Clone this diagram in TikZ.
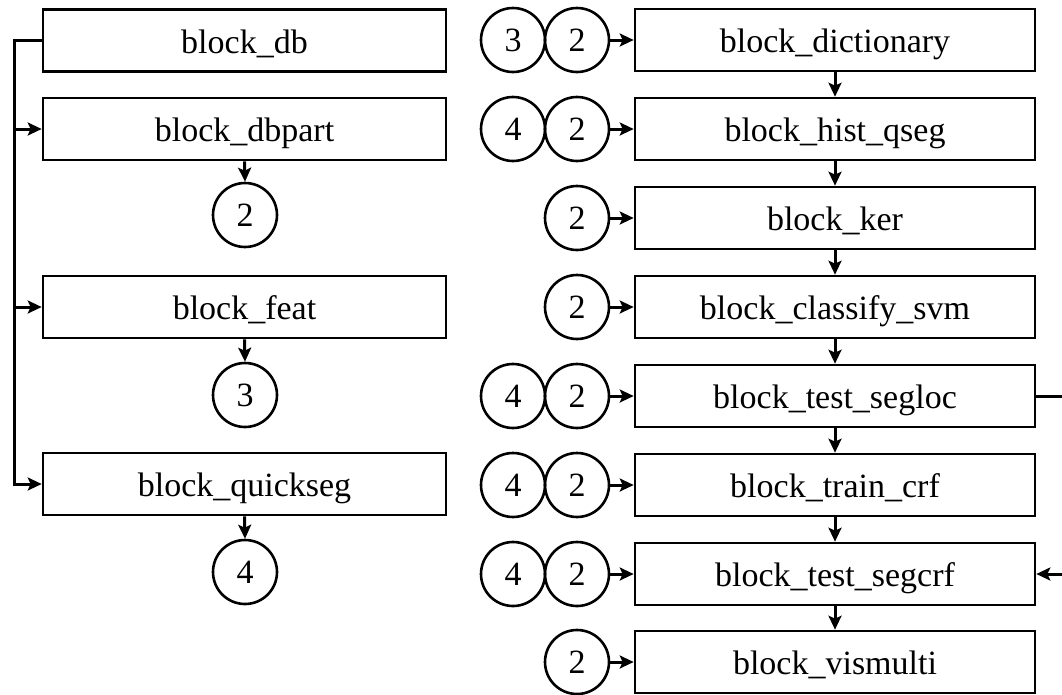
\documentclass[tikz,border=0pt]{standalone}
\usepackage{fontspec}
\setmainfont{Liberation Serif}
\usetikzlibrary{arrows.meta}
\begin{document}
\begin{tikzpicture}[x=1pt,y=-1pt,
  txt/.style={font=\fontsize{34}{38}\selectfont,text height=30pt,text depth=5pt},
  lbox/.style={draw,line width=2.6pt,rectangle,minimum width=403pt,minimum height=62pt,inner sep=0pt,txt},
  rbox/.style={draw,line width=2.6pt,rectangle,minimum width=400pt,minimum height=62pt,inner sep=0pt,txt},
  circ/.style={draw,line width=2.6pt,circle,minimum size=64pt,inner sep=0pt,font=\fontsize{34}{38}\selectfont},
  conn/.style={line width=3pt},
  arr/.style={line width=3pt,-{Stealth[length=14pt,width=13pt,inset=3pt]}}]
\useasboundingbox (0,0) rectangle (1062,694);
% left column
\node[lbox] (db) at (244.5,40.5) {block\_db};
\node[lbox] (dbpart) at (244.5,129) {block\_dbpart};
\node[circ] (l2) at (245,215) {2};
\node[lbox] (feat) at (244.5,307) {block\_feat};
\node[circ] (l3) at (245,395) {3};
\node[lbox] (qs) at (244.5,484) {block\_quickseg};
\node[circ] (l4) at (245,572) {4};
\coordinate (ltop) at (14,40.5);
\coordinate (lb1) at (14,129);
\coordinate (lb2) at (14,307);
\draw[conn] (db.west) -- (ltop) -- (lb1);
\draw[arr] (ltop) |- (qs.west);
\draw[arr] (lb1) -- (dbpart.west);
\draw[arr] (lb2) -- (feat.west);
\draw[arr] (dbpart.south) -- (l2.north);
\draw[arr] (feat.south) -- (l3.north);
\draw[arr] (qs.south) -- (l4.north);
% right column
\node[rbox] (r1) at (835,40) {block\_dictionary};
\node[rbox] (r2) at (835,129) {block\_hist\_qseg};
\node[rbox] (r3) at (835,218) {block\_ker};
\node[rbox] (r4) at (835,307) {block\_classify\_svm};
\node[rbox] (r5) at (835,396) {block\_test\_segloc};
\node[rbox] (r6) at (835,485) {block\_train\_crf};
\node[rbox] (r7) at (835,574) {block\_test\_segcrf};
\node[rbox] (r8) at (835,662) {block\_vismulti};
\node[circ] (a1) at (513,40) {3};
\node[circ] (b1) at (577,40) {2};
\node[circ] (a2) at (513,129) {4};
\node[circ] (b2) at (577,129) {2};
\node[circ] (b3) at (577,218) {2};
\node[circ] (b4) at (577,307) {2};
\node[circ] (a5) at (513,396) {4};
\node[circ] (b5) at (577,396) {2};
\node[circ] (a6) at (513,485) {4};
\node[circ] (b6) at (577,485) {2};
\node[circ] (a7) at (513,574) {4};
\node[circ] (b7) at (577,574) {2};
\node[circ] (b8) at (577,662) {2};
\foreach \i in {1,...,8} {\draw[arr] (b\i.east) -- (r\i.west);}
\foreach \i/\j in {1/2,2/3,3/4,4/5,5/6,6/7,7/8} {\draw[arr] (r\i.south) -- (r\j.north);}
\coordinate (e1) at (1062,396);
\coordinate (e2) at (1062,574);
\draw[conn] (r5.east) -- (e1);
\draw[arr] (e2) -- (r7.east);
\end{tikzpicture}
\end{document}
